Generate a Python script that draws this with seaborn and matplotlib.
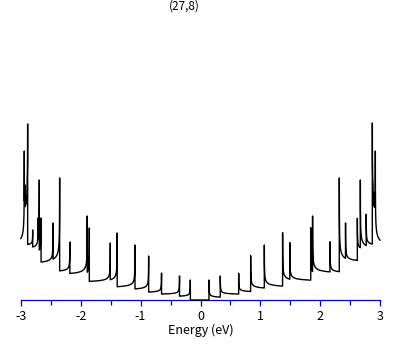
import numpy as np
import pandas as pd
import matplotlib
matplotlib.use("Agg")
import matplotlib.pyplot as plt
import seaborn as sns

# van Hove singularities, listed from the gap outwards
# energy (eV), spike height and the level of the tail that follows (arb. units)
left_edges = [-0.17, -0.35, -0.65, -0.865, -1.093, -1.39, -1.505, -1.855, -1.89,
              -2.18, -2.35, -2.46, -2.66, -2.69, -2.71, -2.80, -2.884, -2.895,
              -2.91, -2.925, -2.94]
left_peaks = [0.20, 0.24, 0.27, 0.44, 0.55, 0.67, 0.57, 0.72, 0.84,
              0.58, 1.22, 0.77, 0.82, 1.20, 0.82, 0.70, 1.76, 1.10,
              1.05, 1.15, 1.49]
left_tails = [0.027, 0.05, 0.067, 0.09, 0.11, 0.16, 0.167, 0.20, 0.233,
              0.27, 0.333, 0.353, 0.44, 0.46, 0.50, 0.54, 0.95, 0.93,
              0.90, 0.95, 0.50]

right_edges = [0.142, 0.33, 0.637, 0.837, 1.065, 1.37, 1.49, 1.84, 1.87,
               2.16, 2.316, 2.42, 2.617, 2.667, 2.765, 2.867, 2.88, 2.893,
               2.905, 2.917]
right_peaks = [0.20, 0.24, 0.267, 0.443, 0.55, 0.673, 0.573, 0.723, 0.84,
               0.583, 1.22, 0.77, 0.817, 1.20, 0.857, 1.77, 1.05, 1.00,
               1.08, 1.49]
right_tails = [0.017, 0.05, 0.073, 0.10, 0.117, 0.167, 0.18, 0.20, 0.25,
               0.26, 0.34, 0.37, 0.48, 0.48, 0.53, 0.95, 0.92, 0.90,
               0.93, 0.50]

title = "(27,8)"
xticks = [-3, -2, -1, 0, 1, 2, 3]


def side_dos(e_abs, edges, peaks, tails, w=0.0008):
    # 1/sqrt tail after every singularity, zero inside the gap
    d = np.zeros_like(e_abs)
    for i, e0 in enumerate(edges):
        e1 = edges[i + 1] if i + 1 < len(edges) else np.inf
        m = (e_abs >= e0) & (e_abs < e1)
        d[m] = tails[i] + (peaks[i] - tails[i]) * np.sqrt(w / (e_abs[m] - e0 + w))
    return d


energy = np.union1d(np.arange(-3.0, 3.0001, 0.0005), left_edges + right_edges)
dos = np.where(
    energy < 0,
    side_dos(-energy, np.abs(left_edges), left_peaks, left_tails),
    side_dos(energy, np.array(right_edges), right_peaks, right_tails),
)
df = pd.DataFrame({"energy": energy, "dos": dos})

sns.set_style("white")
plt.rcParams["font.family"] = ["Noto Sans CJK JP", "DejaVu Sans"]
plt.rcParams["axes.unicode_minus"] = False
plt.rcParams["text.color"] = "black"
plt.rcParams["xtick.color"] = "black"
plt.rcParams["axes.labelcolor"] = "black"

W, H = 409, 345
fig = plt.figure(figsize=(W / 100, H / 100), dpi=100)
ax = fig.add_axes([20.7 / W, 1 - 300 / H, (380.3 - 20.7) / W, (300 - 110) / H])

sns.lineplot(data=df, x="energy", y="dos", color="black", linewidth=1.0,
             estimator=None, sort=False, ax=ax)
ax.lines[0].set_clip_on(False)
ax.lines[0].set_zorder(3)

ax.set_xlim(-3, 3)
ax.set_ylim(0, 1.9)
for s in ["top", "right", "left"]:
    ax.spines[s].set_visible(False)
ax.spines["bottom"].set_color("#0000cc")
ax.spines["bottom"].set_linewidth(0.9)

ax.set_xticks(xticks)
ax.set_xticks(np.arange(-2.5, 3, 1.0), minor=True)
ax.tick_params(axis="x", which="both", bottom=True, direction="out",
               color="#0000cc", width=0.9)
ax.tick_params(axis="x", which="major", length=4.5, labelsize=9, pad=3,
               labelcolor="black")
ax.tick_params(axis="x", which="minor", length=3.5)
ax.set_yticks([])
ax.set_ylabel("")
ax.set_xlabel("Energy (eV)", fontsize=9, labelpad=0)

fig.text(184 / W, 1 - 6 / H, title, ha="center", va="center", fontsize=8.5)

fig.savefig("out.png", dpi=100)
